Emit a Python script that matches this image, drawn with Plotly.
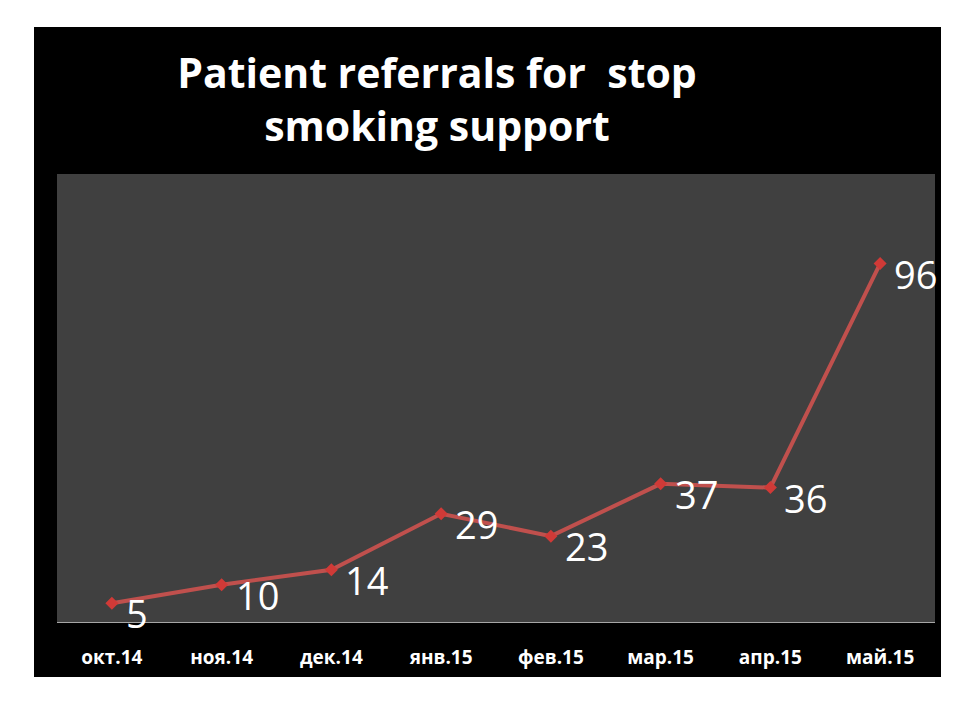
import plotly.graph_objects as go

months = ["окт.14", "ноя.14", "дек.14", "янв.15", "фев.15", "мар.15", "апр.15", "май.15"]
referrals = [5, 10, 14, 29, 23, 37, 36, 96]
labels = [str(v) for v in referrals]

OFF = 8  # page body margin
W, H = 960 - OFF, 720 - OFF
L, T = 57 - OFF, 174 - OFF
R = W - (935 - OFF)
B = H - (622 - OFF)
pw, ph = W - L - R, H - T - B

def px_x(x):
    return (x - OFF - L) / pw

def px_y(y):
    return (H - B - (y - OFF)) / ph

fig = go.Figure()
fig.add_trace(go.Scatter(
    x=months, y=referrals, mode="lines+markers",
    line=dict(color="#C0504D", width=4),
    marker=dict(symbol="diamond", size=10, color="#D03A37"),
    cliponaxis=False, hoverinfo="skip",
))

annotations = [
    dict(x=m, y=v, text=t, xref="x", yref="y", showarrow=False,
         xanchor="left", yanchor="middle", xshift=12, yshift=-10,
         font=dict(family="Open Sans", size=38, color="white"))
    for m, v, t in zip(months, referrals, labels)
]

fig.update_layout(
    width=W, height=H,
    margin=dict(l=L, r=R, t=T, b=B),
    paper_bgcolor="white", plot_bgcolor="#404040",
    showlegend=False,
    annotations=annotations,
    title=dict(
        text="<b>Patient referrals for  stop<br>smoking support</b>",
        x=px_x(437), xref="paper", xanchor="center",
        y=1 - (88 - OFF) / H, yanchor="middle",
        font=dict(family="Open Sans", size=41, color="white"),
    ),
    shapes=[
        dict(type="rect", xref="paper", yref="paper", layer="below",
             x0=px_x(34), x1=px_x(941), y0=px_y(677), y1=px_y(27),
             fillcolor="black", line=dict(width=0)),
        dict(type="rect", xref="paper", yref="paper", layer="below",
             x0=0, x1=1, y0=0, y1=1,
             fillcolor="#404040", line=dict(width=0)),
    ],
)
fig.update_xaxes(
    type="category", range=[-0.5, 7.5], showgrid=False,
    showline=True, linecolor="#a6a6a6", linewidth=1,
    ticks="outside", ticklen=18, tickcolor="rgba(0,0,0,0)",
    tickfont=dict(family="Open Sans", size=19, color="white", weight="bold"),
)
fig.update_yaxes(range=[0, 120], showgrid=False, showticklabels=False, zeroline=False, showline=False)

fig.write_html("out.html")
